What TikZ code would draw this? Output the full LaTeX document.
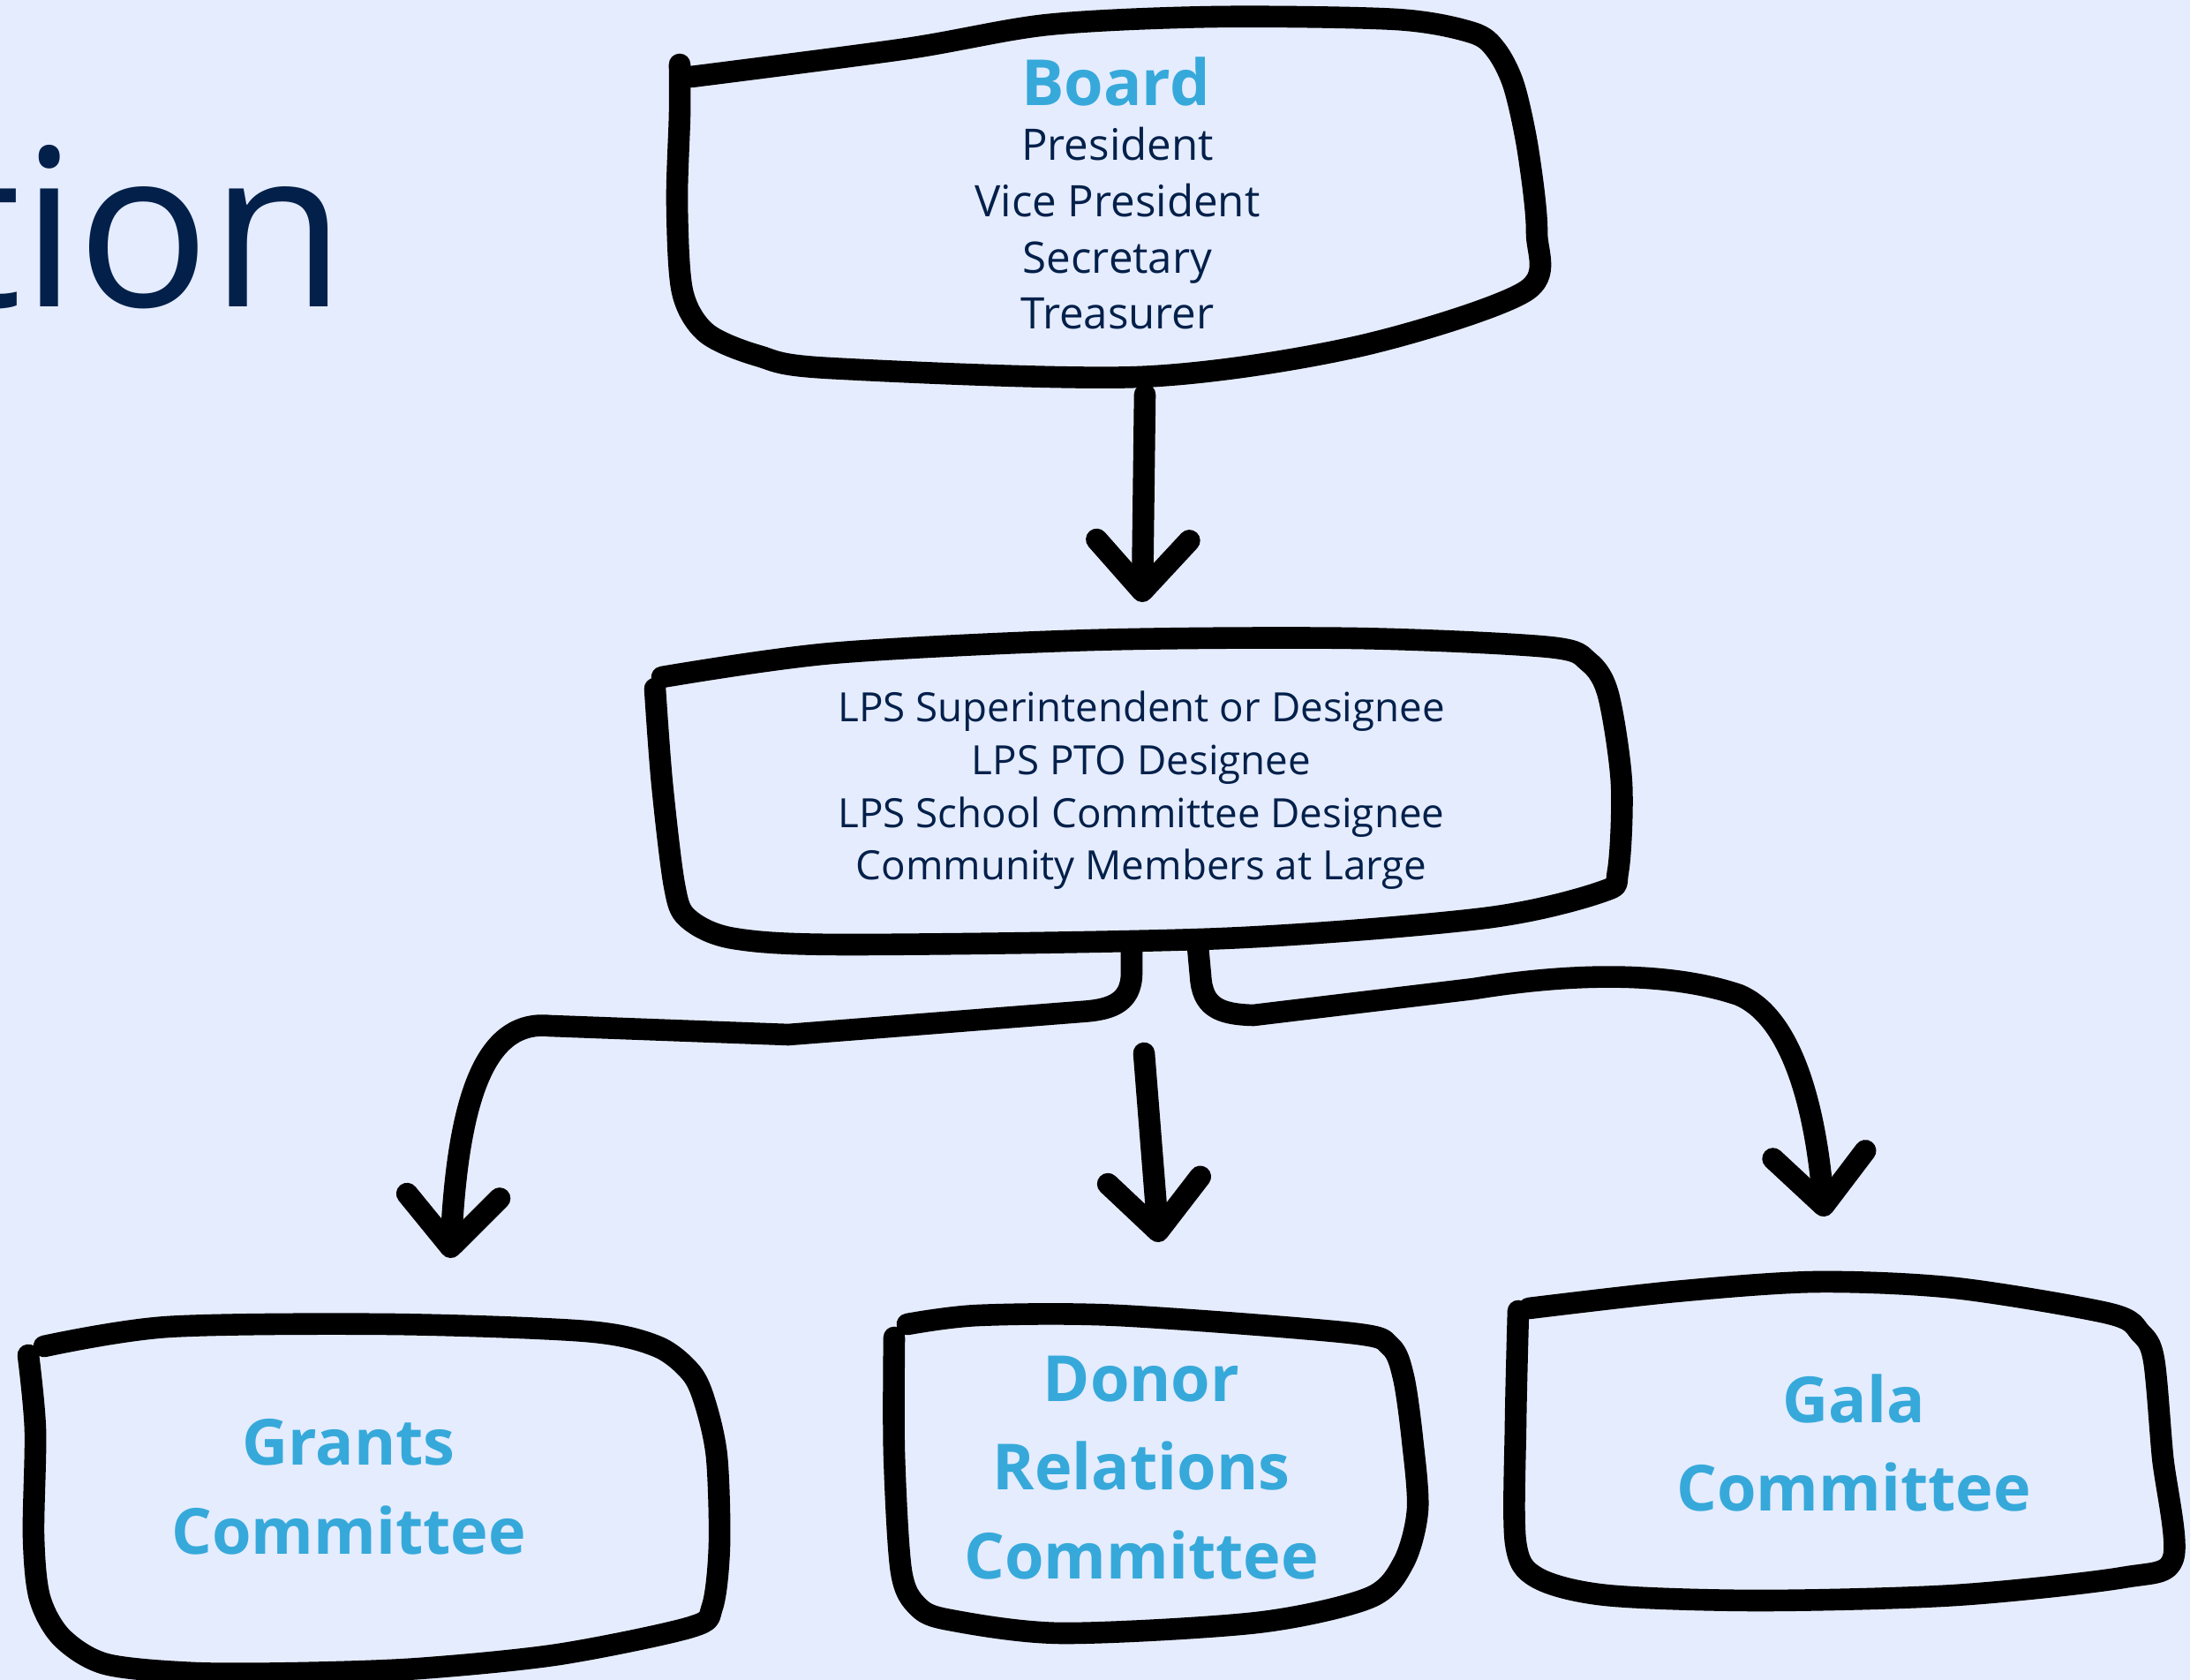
\documentclass[tikz,border=0pt]{standalone}
\usepackage{fontspec}
\setmainfont{Open Sans}
\usetikzlibrary{arrows.meta,positioning}

\definecolor{bgblue}{HTML}{E5ECFE}
\definecolor{navy}{HTML}{03204A}
\definecolor{skyblue}{HTML}{36A9DA}

\begin{document}
\begin{tikzpicture}[
    x=1cm, y=-1cm,
    sketch/.style={line width=7pt, line cap=round, line join=round},
    arrow/.style={sketch, -{Straight Barb[length=5.8mm, width=10.5mm, round]}},
    title/.style={font=\bfseries\fontsize{20.5}{28.5}\selectfont, text=skyblue, align=center, inner sep=0pt, anchor=base},
    roster/.style={font=\fontsize{14}{18.2}\selectfont, text=navy, align=center, inner sep=0pt, anchor=base}
]

% Page and background
\useasboundingbox (0,0) rectangle (24.81,19.03);
\fill[bgblue] (0,0) rectangle (24.81,19.03);
\clip (0,0) rectangle (24.81,19.03);

% Cut-off heading on the left (anchors below are on the last line's baseline)
\node[font=\fontsize{71}{80}\selectfont, text=navy, anchor=base west, inner sep=0pt] (heading) at (-0.64,3.48) {tion};

% Board
\draw[sketch] plot[smooth, tension=0.5] coordinates {(7.70,0.73) (7.70,1.30) (7.67,2.30) (7.73,3.30) (8.00,3.77) (8.59,4.03) (9.39,4.17) (12.90,4.27) (15.36,3.93) (17.28,3.30) (17.41,2.63) (17.31,1.70) (17.15,0.97) (16.95,0.57) (16.68,0.37) (15.82,0.22) (13.76,0.19) (11.87,0.28) (10.28,0.55) (7.83,0.87)};
\node[title] (board) at (12.64,1.20) {Board};
\node[roster] (officers) at (12.66,3.73) {President\\Vice President\\Secretary\\Treasurer};

% Members
\draw[sketch] plot[smooth, tension=0.5] coordinates {(7.42,7.80) (7.50,8.87) (7.64,10.03) (7.79,10.40) (8.31,10.63) (9.64,10.70) (13.86,10.63) (16.82,10.40) (18.15,10.10) (18.33,9.87) (18.37,8.87) (18.22,7.87) (18.00,7.50) (17.55,7.33) (15.34,7.23) (12.38,7.25) (9.42,7.40) (7.50,7.67)};
\node[roster, font=\fontsize{13}{17}\selectfont] (members) at (12.93,9.97) {LPS Superintendent or Designee\\LPS PTO Designee\\LPS School Committee Designee\\Community Members at Large};

% Committees
\draw[sketch] plot[smooth, tension=0.5] coordinates {(0.32,15.35) (0.40,16.20) (0.38,17.40) (0.45,18.10) (0.70,18.55) (1.20,18.85) (2.20,18.95) (3.40,18.95) (4.75,18.90) (6.33,18.74) (7.83,18.43) (8.07,18.20) (8.15,17.50) (8.12,16.50) (7.99,15.90) (7.83,15.55) (7.44,15.25) (6.64,15.08) (4.43,15.00) (1.90,15.03) (0.50,15.25)};
\node[title] (grants) at (3.95,17.60) {Grants\\Committee};

\draw[sketch] plot[smooth, tension=0.5] coordinates {(10.13,15.15) (10.13,16.47) (10.21,17.80) (10.40,18.20) (10.76,18.35) (12.03,18.50) (14.24,18.38) (15.51,18.10) (15.90,17.70) (16.06,17.10) (16.00,16.30) (15.90,15.60) (15.75,15.25) (15.30,15.10) (12.66,14.90) (11.08,14.90) (10.28,15.00)};
\node[title] (donor) at (12.93,17.88) {Donor\\Relations\\Committee};

\draw[sketch] plot[smooth, tension=0.5] coordinates {(17.20,14.85) (17.17,16.13) (17.17,17.47) (17.41,17.87) (18.20,18.07) (19.94,18.13) (22.15,18.07) (24.05,17.87) (24.62,17.65) (24.50,16.50) (24.40,15.40) (24.25,15.10) (23.90,14.88) (22.15,14.59) (20.57,14.52) (18.98,14.63) (17.32,14.82)};
\node[title] (gala) at (21.00,17.12) {Gala\\Committee};

% Connector ends
\coordinate (board-out) at (12.97,4.47);
\coordinate (members-in) at (12.94,6.82);
\coordinate (members-l) at (12.82,10.72);
\coordinate (members-r) at (13.57,10.72);
\coordinate (split) at (12.96,11.93);
\coordinate (grants-in) at (5.10,14.25);
\coordinate (donor-in) at (13.13,14.07);
\coordinate (gala-in) at (20.67,13.78);

% Arrows
\draw[arrow] (board-out) -- (members-in);
\draw[arrow] (members-l) -- (12.82,11.02) .. controls (12.82,11.38) and (12.55,11.44) .. (12.25,11.46) -- (8.93,11.72) -- (6.23,11.62) .. controls (5.55,11.55) and (5.20,12.30) .. (grants-in);
\draw[arrow] (split) -- (donor-in);
\draw[arrow] (members-r) -- (13.60,11.05) .. controls (13.62,11.40) and (13.80,11.49) .. (14.20,11.50) -- (16.70,11.20) .. controls (17.80,11.02) and (18.90,11.00) .. (19.70,11.27) .. controls (20.25,11.50) and (20.55,12.40) .. (gala-in);

\end{tikzpicture}
\end{document}
